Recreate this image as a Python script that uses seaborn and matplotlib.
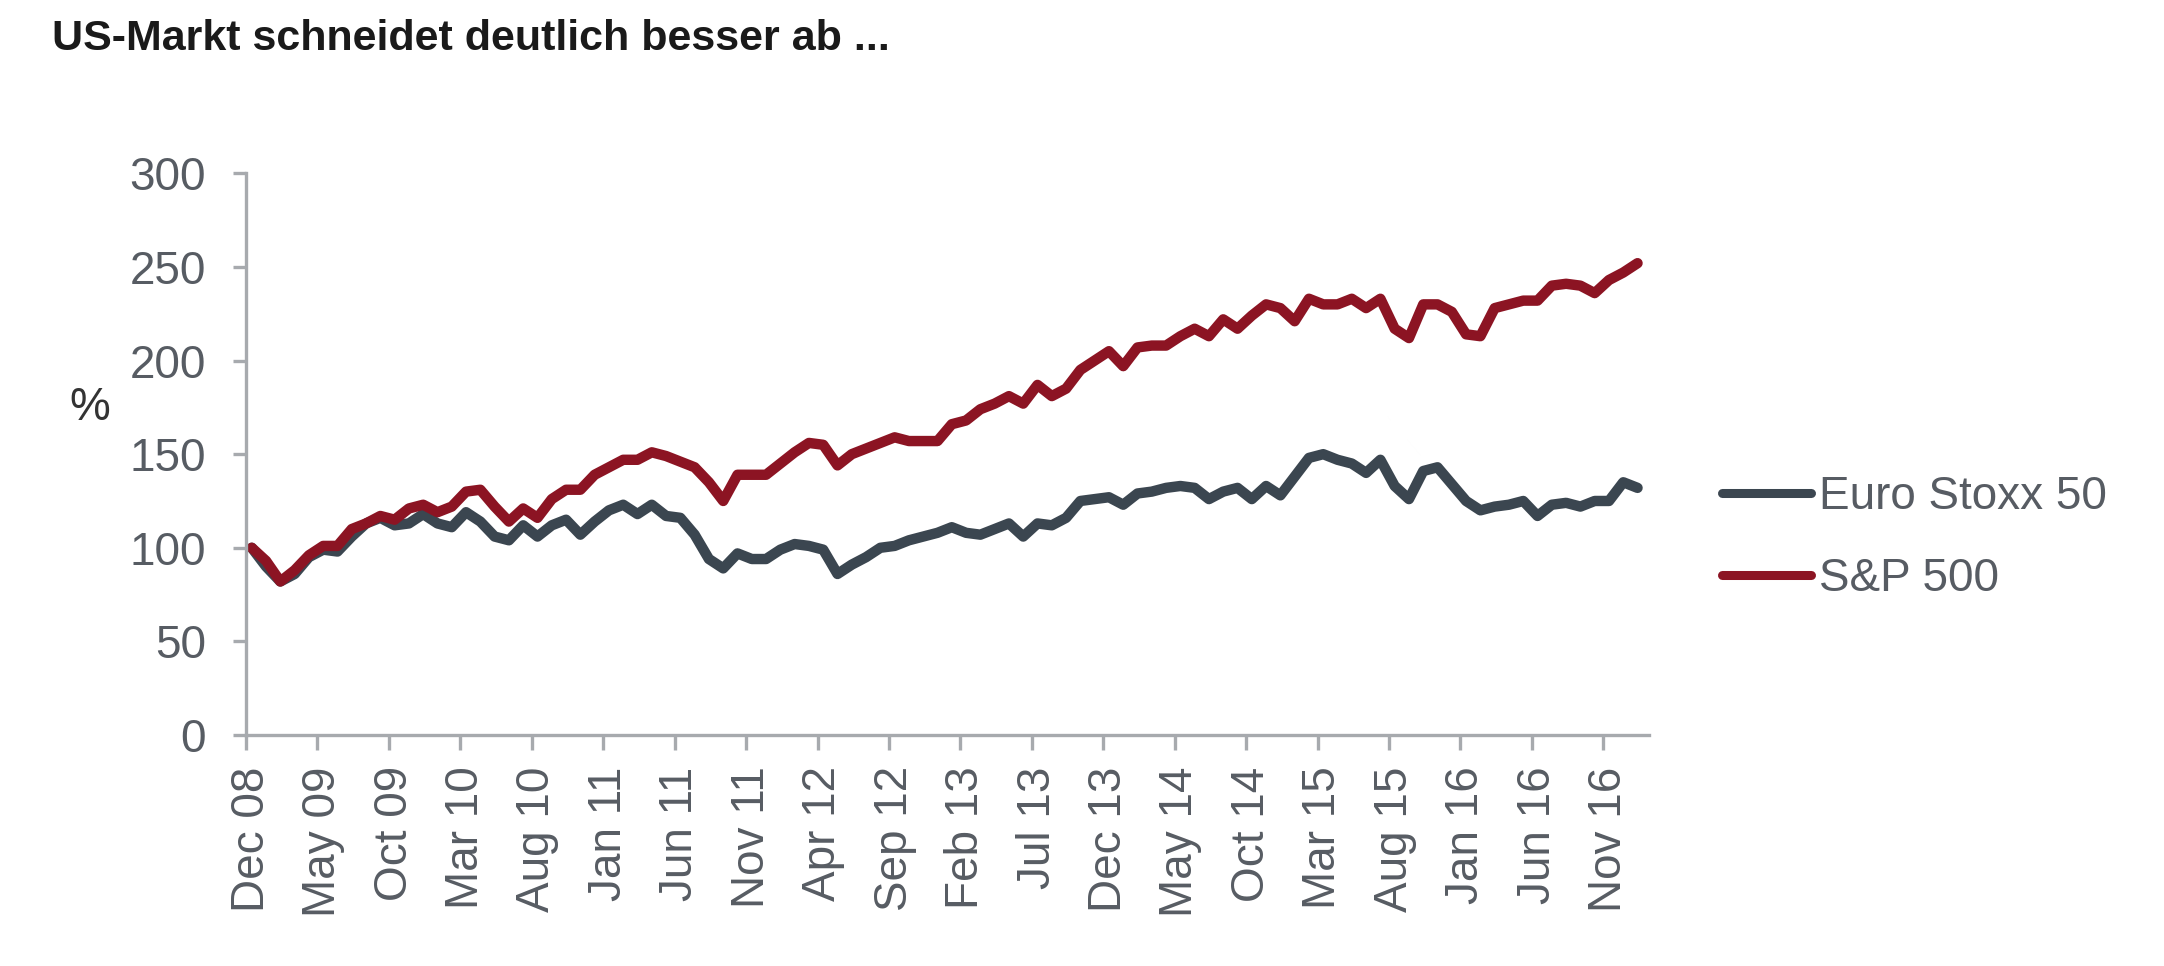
import numpy as np
import pandas as pd
import matplotlib
matplotlib.use("Agg")
import matplotlib.pyplot as plt
import seaborn as sns
from matplotlib import font_manager

# monthly index levels, Dec 08 = 100, Dec 08 .. Jan 17
euro_stoxx = [100, 90, 82, 86, 95, 99, 98, 106, 113, 116, 112, 113, 118, 113, 111, 119,
              114, 106, 104, 112, 106, 112, 115, 107, 114, 120, 123, 118, 123, 117, 116, 107,
              94, 89, 97, 94, 94, 99, 102, 101, 99, 86, 91, 95, 100, 101, 104, 106,
              108, 111, 108, 107, 110, 113, 106, 113, 112, 116, 125, 126, 127, 123, 129, 130,
              132, 133, 132, 126, 130, 132, 126, 133, 128, 138, 148, 150, 147, 145, 140, 147,
              133, 126, 141, 143, 134, 125, 120, 122, 123, 125, 117, 123, 124, 122, 125, 125,
              135, 132]
sp500 = [100, 93, 82, 88, 96, 101, 101, 110, 113, 117, 115, 121, 123, 119, 122, 130,
         131, 122, 114, 121, 116, 126, 131, 131, 139, 143, 147, 147, 151, 149, 146, 143,
         135, 125, 139, 139, 139, 145, 151, 156, 155, 144, 150, 153, 156, 159, 157, 157,
         157, 166, 168, 174, 177, 181, 177, 187, 181, 185, 195, 200, 205, 197, 207, 208,
         208, 213, 217, 213, 222, 217, 224, 230, 228, 221, 233, 230, 230, 233, 228, 233,
         217, 212, 230, 230, 226, 214, 213, 228, 230, 232, 232, 240, 241, 240, 236, 243,
         247, 252]
tick_labels = ["Dec 08", "May 09", "Oct 09", "Mar 10", "Aug 10", "Jan 11", "Jun 11",
               "Nov 11", "Apr 12", "Sep 12", "Feb 13", "Jul 13", "Dec 13", "May 14",
               "Oct 14", "Mar 15", "Aug 15", "Jan 16", "Jun 16", "Nov 16"]
series_names = ["Euro Stoxx 50", "S&P 500"]
colors = ["#3B4650", "#8C1423"]

sns.set_theme(style="white")
plt.rcParams['font.family'] = ['Liberation Sans', 'DejaVu Sans']

names = {f.name for f in font_manager.fontManager.ttflist}
title_font = 'Liberation Sans Narrow' if 'Liberation Sans Narrow' in names else 'Liberation Sans'

months = np.arange(len(sp500))
df = pd.DataFrame({'month': months, series_names[0]: euro_stoxx, series_names[1]: sp500})
long = df.melt(id_vars='month', var_name='index', value_name='pct')

axis_grey = "#A7AAAE"
text_grey = "#575C63"

fig = plt.figure(figsize=(21.64, 9.66), dpi=100)
ax = fig.add_axes([0.1137, 0.2391, 0.6483, 0.5815])
sns.lineplot(data=long, x='month', y='pct', hue='index', hue_order=series_names,
             palette=dict(zip(series_names, colors)), ax=ax)
for ln in ax.lines:
    ln.set_linewidth(7.5)
    ln.set_solid_joinstyle('round')
    ln.set_solid_capstyle('round')

ax.set_xlim(-0.4, 97.8)
ax.set_ylim(0, 300)
ax.set_yticks(range(0, 301, 50))
tick_pos = list(range(0, len(tick_labels) * 5, 5))
ax.set_xticks(tick_pos)
ax.set_xticklabels(tick_labels, rotation=90)
ax.set_xticks([p - 0.4 for p in tick_pos], minor=True)
ax.set_xlabel("")
ax.set_ylabel("")

for side in ['top', 'right']:
    ax.spines[side].set_visible(False)
for side in ['left', 'bottom']:
    ax.spines[side].set_color(axis_grey)
    ax.spines[side].set_linewidth(2.4)

ax.tick_params(axis='x', which='major', length=0, pad=22.5, labelsize=33, labelcolor=text_grey)
ax.tick_params(axis='x', which='minor', bottom=True, length=10.8, width=2.4, color=axis_grey)
ax.tick_params(axis='y', left=True, length=9.4, width=2.4, color=axis_grey, pad=19.4,
               labelsize=33, labelcolor=text_grey)

handles, labels = ax.get_legend_handles_labels()
leg = ax.legend(handles, labels, loc='center left', bbox_to_anchor=(1722 / 2164, 1 - 538 / 966),
                bbox_transform=fig.transFigure, frameon=False, fontsize=33,
                handlelength=1.95, handletextpad=0.17, labelspacing=0.82,
                borderpad=0, borderaxespad=0, labelcolor=text_grey)
for h in leg.get_lines():
    h.set_linewidth(6.5)
    h.set_solid_capstyle('round')

fig.text(0.0416, 0.5776, "%", fontsize=33, color="#333333", ha='center', va='center')
fig.text(0.024, 0.96, "US-Markt schneidet deutlich besser ab ...", fontsize=31,
         fontweight='bold', color="#1A1A1A", family=[title_font, 'DejaVu Sans'],
         ha='left', va='center')

fig.savefig("out.png", dpi=100)
